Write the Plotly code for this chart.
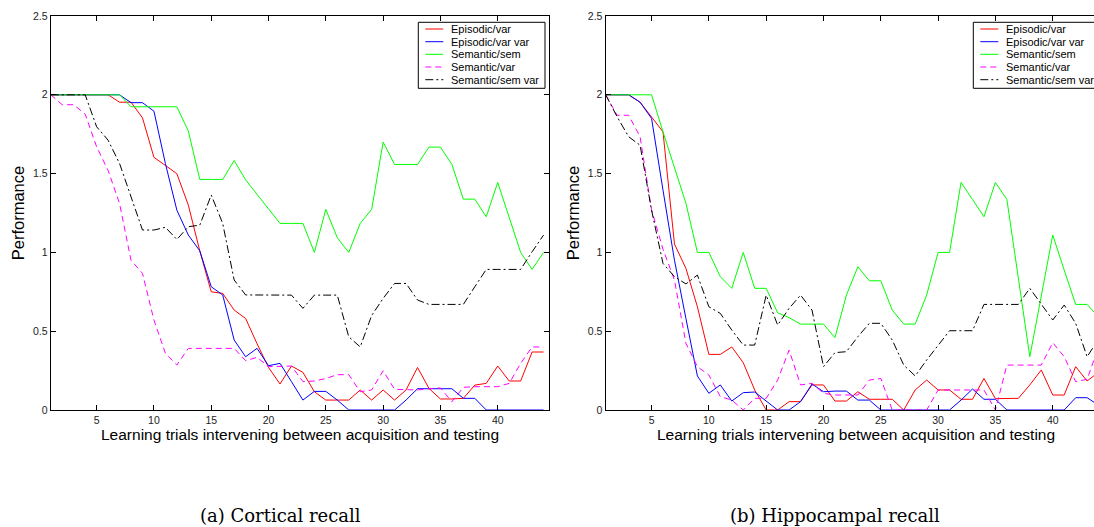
import plotly.graph_objects as go

# ---- data -----------------------------------------------------------------
trials = list(range(1, 45))
tick_vals_x = [5, 10, 15, 20, 25, 30, 35, 40]
tick_vals_y = [0, 0.5, 1, 1.5, 2, 2.5]
tick_text_y = ["0", "0.5", "1", "1.5", "2", "2.5"]

series_names = ["Episodic/var", "Episodic/var var", "Semantic/sem",
                "Semantic/var", "Semantic/sem var"]

# (a) cortical recall
cort_episodic_var = [2, 2, 2, 2, 2, 2, 1.953, 1.953, 1.854, 1.603, 1.552, 1.499,
                     1.30, 1.01, 0.75, 0.74, 0.634, 0.581, 0.42, 0.27, 0.165, 0.279,
                     0.239, 0.116, 0.063, 0.063, 0.063, 0.127, 0.063, 0.127, 0.063,
                     0.127, 0.27, 0.137, 0.07, 0.07, 0.074, 0.158, 0.169, 0.279,
                     0.184, 0.184, 0.368, 0.368]
cort_episodic_varvar = [2, 2, 2, 2, 2, 2, 2, 1.95, 1.95, 1.896, 1.564, 1.268,
                        1.11, 1.01, 0.782, 0.73, 0.444, 0.338, 0.391, 0.281, 0.296,
                        0.18, 0.063, 0.118, 0.118, 0.063, 0, 0, 0, 0, 0, 0.063,
                        0.135, 0.135, 0.135, 0.135, 0.074, 0.074, 0, 0, 0, 0, 0, 0]
cort_semantic_sem = [2, 2, 2, 2, 2, 2, 2, 1.924, 1.924, 1.924, 1.924, 1.924,
                     1.77, 1.463, 1.463, 1.463, 1.583, 1.46, 1.368, 1.277, 1.184,
                     1.184, 1.184, 1.0, 1.273, 1.093, 1.0, 1.184, 1.273, 1.70,
                     1.558, 1.558, 1.558, 1.668, 1.668, 1.558, 1.338, 1.338, 1.226,
                     1.444, 1.22, 1.0, 0.892, 1.0]
cort_semantic_var = [2, 1.937, 1.937, 1.877, 1.67, 1.52, 1.31, 0.95, 0.867, 0.571,
                     0.36, 0.285, 0.391, 0.391, 0.391, 0.391, 0.391, 0.313, 0.334,
                     0.275, 0.279, 0.279, 0.18, 0.184, 0.2, 0.224, 0.224, 0.116,
                     0.127, 0.249, 0.131, 0.127, 0.127, 0.135, 0.14, 0.053, 0.144,
                     0.148, 0.148, 0.148, 0.169, 0.296, 0.40, 0.40]
cort_semantic_semvar = [2, 2, 2, 2, 1.797, 1.712, 1.564, 1.353, 1.142, 1.142,
                        1.159, 1.082, 1.163, 1.173, 1.364, 1.184, 0.825, 0.73, 0.73,
                        0.729, 0.729, 0.729, 0.645, 0.729, 0.729, 0.729, 0.465, 0.40,
                        0.60, 0.708, 0.803, 0.803, 0.698, 0.67, 0.67, 0.67, 0.67,
                        0.782, 0.892, 0.892, 0.892, 0.892, 1.004, 1.11]

# (b) hippocampal recall
hipp_episodic_var = [2, 2, 2, 1.953, 1.86, 1.765, 1.053, 0.898, 0.655, 0.353,
                     0.353, 0.40, 0.30, 0.127, 0, 0, 0.053, 0.053, 0.159, 0.159,
                     0.057, 0.057, 0.116, 0.068, 0.068, 0.068, 0, 0.127, 0.19,
                     0.127, 0.127, 0.068, 0.068, 0.2, 0.072, 0.074, 0.074, 0.159,
                     0.254, 0.095, 0.095, 0.275, 0.184, 0.24]
hipp_episodic_varvar = [2, 2, 2, 1.953, 1.85, 1.395, 0.95, 0.58, 0.216, 0.106,
                        0.159, 0.057, 0.11, 0.114, 0.059, 0, 0, 0.053, 0.165, 0.116,
                        0.12, 0.12, 0.063, 0.063, 0, 0, 0, 0, 0, 0, 0, 0.063, 0.133,
                        0.068, 0.068, 0, 0, 0, 0, 0, 0, 0.078, 0.078, 0.03]
hipp_semantic_sem = [2, 2, 2, 2, 2, 1.765, 1.539, 1.311, 1.0, 1.0, 0.846, 0.772,
                     1.0, 0.772, 0.772, 0.617, 0.586, 0.545, 0.545, 0.545, 0.459,
                     0.729, 0.909, 0.82, 0.82, 0.634, 0.545, 0.545, 0.729, 1.0, 1.0,
                     1.444, 1.336, 1.226, 1.444, 1.336, 0.837, 0.338, 0.723, 1.11,
                     0.888, 0.67, 0.67, 0.59]
hipp_semantic_var = [2, 1.87, 1.87, 1.734, 1.27, 1.02, 0.824, 0.423, 0.275, 0.222,
                     0.085, 0.063, 0, 0.074, 0.074, 0.19, 0.38, 0.159, 0.169, 0.106,
                     0.095, 0.095, 0.095, 0.19, 0.2, 0, 0, 0, 0, 0.127, 0.127,
                     0.127, 0.127, 0.127, 0, 0.285, 0.285, 0.285, 0.285, 0.427,
                     0.338, 0.18, 0.195, 0.4]
hipp_semantic_semvar = [2, 1.86, 1.734, 1.68, 1.268, 0.93, 0.846, 0.8, 0.856,
                        0.655, 0.613, 0.507, 0.412, 0.412, 0.729, 0.539, 0.645,
                        0.729, 0.634, 0.275, 0.364, 0.37, 0.465, 0.55, 0.55, 0.444,
                        0.285, 0.216, 0.317, 0.412, 0.503, 0.503, 0.503, 0.67, 0.67,
                        0.67, 0.67, 0.772, 0.672, 0.571, 0.666, 0.55, 0.338, 0.45]

# ---- styling ----------------------------------------------------------------
W, H = 1094, 527
SANS = "Liberation Sans, Arial, sans-serif"
SERIF = "DejaVu Serif, serif"
line_styles = [
    dict(color="#ff0000", width=1, dash="solid"),
    dict(color="#0000ff", width=1, dash="solid"),
    dict(color="#00ff00", width=1, dash="solid"),
    dict(color="#ff00ff", width=1, dash="6px,4px"),
    dict(color="#000000", width=1, dash="8px,3px,2px,3px"),
]

def px_x(p):
    return p / W

def px_y(p):
    return 1 - p / H

fig = go.Figure()

panels = [
    ("x", "y", [cort_episodic_var, cort_episodic_varvar, cort_semantic_sem,
                cort_semantic_var, cort_semantic_semvar]),
    ("x2", "y2", [hipp_episodic_var, hipp_episodic_varvar, hipp_semantic_sem,
                  hipp_semantic_var, hipp_semantic_semvar]),
]
for xa, ya, series in panels:
    for name, vals, style in zip(series_names, series, line_styles):
        fig.add_trace(go.Scatter(x=trials, y=vals, mode="lines", name=name,
                                 line=style, xaxis=xa, yaxis=ya,
                                 showlegend=False))

axis_common = dict(showgrid=False, zeroline=False, showline=True,
                   linecolor="black", linewidth=1.3, ticks="inside",
                   ticklen=5, tickwidth=1, tickcolor="black",
                   tickfont=dict(family=SANS, size=10.5, color="#222"))

y_dom = [px_y(410), px_y(16)]
left_dom = [px_x(50.8), px_x(549.3)]
right_dom = [px_x(605.7), 1.0]

fig.update_layout(
    width=W, height=H,
    margin=dict(l=0, r=0, t=0, b=0, autoexpand=False),
    paper_bgcolor="white", plot_bgcolor="white",
    showlegend=False,
    xaxis=dict(domain=left_dom, range=[1, 44.5], tickvals=tick_vals_x,
               mirror="ticks", anchor="y", **axis_common),
    yaxis=dict(domain=y_dom, range=[0, 2.5], tickvals=tick_vals_y,
               ticktext=tick_text_y, mirror="ticks", anchor="x", **axis_common),
    xaxis2=dict(domain=right_dom, range=[1, 43.6], tickvals=tick_vals_x,
                mirror="ticks", anchor="y2", **axis_common),
    yaxis2=dict(domain=y_dom, range=[0, 2.5], tickvals=tick_vals_y,
                ticktext=tick_text_y, mirror=False, anchor="x2", **axis_common),
)

# axis titles and sub-captions
xlabel = "Learning trials intervening between acquisition and testing"
annotations = []
for cx in (300, 856):
    annotations.append(dict(text=xlabel, x=px_x(cx), y=px_y(434), xref="paper",
                            yref="paper", showarrow=False, xanchor="center",
                            yanchor="middle",
                            font=dict(family=SANS, size=15.5, color="black")))
for cx in (18.3, 573.2):
    annotations.append(dict(text="Performance", x=px_x(cx), y=px_y(213),
                            xref="paper", yref="paper", showarrow=False,
                            textangle=-90, xanchor="center", yanchor="middle",
                            font=dict(family=SANS, size=16.5, color="black")))
for cx, cap in ((280, "(a) Cortical recall"), (835, "(b) Hippocampal recall")):
    annotations.append(dict(text=cap, x=px_x(cx), y=px_y(515), xref="paper",
                            yref="paper", showarrow=False, xanchor="center",
                            yanchor="middle",
                            font=dict(family=SERIF, size=18, color="black")))

# boxed legends drawn in each panel's upper-right corner
shapes = []
legend_boxes = [(418.3, 545.0), (973.3, 1100.0)]
row_y = [29.0, 41.7, 54.3, 67.0, 79.7]
for bx0, bx1 in legend_boxes:
    shapes.append(dict(type="rect", xref="paper", yref="paper",
                       x0=px_x(bx0), x1=px_x(bx1), y0=px_y(88.3), y1=px_y(22.3),
                       line=dict(color="black", width=1), fillcolor="white",
                       layer="above"))
    for name, style, ry in zip(series_names, line_styles, row_y):
        shapes.append(dict(type="line", xref="paper", yref="paper",
                           x0=px_x(bx0 + 7), x1=px_x(bx0 + 25),
                           y0=px_y(ry), y1=px_y(ry),
                           line=dict(color=style["color"], width=1,
                                     dash=style["dash"]),
                           layer="above"))
        annotations.append(dict(text=name, x=px_x(bx0 + 31), y=px_y(ry),
                                xref="paper", yref="paper", showarrow=False,
                                xanchor="left", yanchor="middle",
                                font=dict(family=SANS, size=11, color="black")))

fig.update_layout(annotations=annotations, shapes=shapes)

fig.write_html("out.html")
